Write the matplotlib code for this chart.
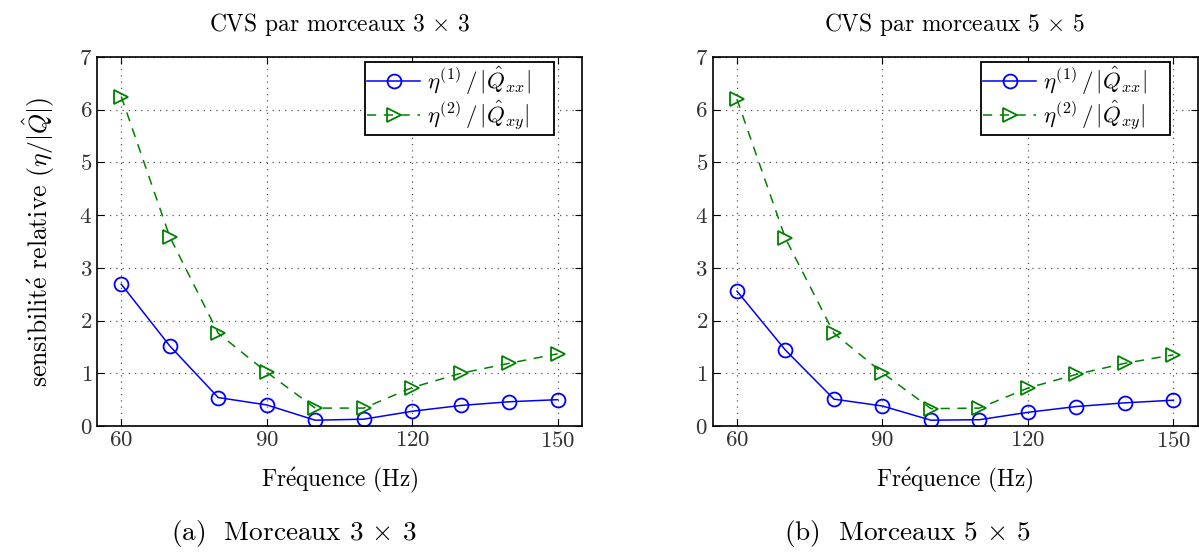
import matplotlib
matplotlib.use("Agg")
import matplotlib.pyplot as plt
import numpy as np

plt.rcParams['font.family'] = ['cmr10', 'DejaVu Serif']
plt.rcParams['mathtext.fontset'] = 'cm'
plt.rcParams['axes.formatter.use_mathtext'] = True

freq = [60, 70, 80, 90, 100, 110, 120, 130, 140, 150]

# morceaux 3 x 3
eta1_3x3 = [2.69, 1.52, 0.54, 0.40, 0.11, 0.13, 0.28, 0.39, 0.46, 0.50]
eta2_3x3 = [6.25, 3.59, 1.76, 1.02, 0.34, 0.34, 0.73, 1.00, 1.19, 1.37]

# morceaux 5 x 5
eta1_5x5 = [2.56, 1.44, 0.51, 0.38, 0.11, 0.12, 0.26, 0.37, 0.44, 0.49]
eta2_5x5 = [6.20, 3.56, 1.76, 1.01, 0.33, 0.34, 0.72, 0.98, 1.19, 1.35]

titles = [r"CVS par morceaux 3 $\times$ 3", r"CVS par morceaux 5 $\times$ 5"]
captions = [r"(a)  Morceaux 3 $\times$ 3", r"(b)  Morceaux 5 $\times$ 5"]
xticks = [60, 90, 120, 150]
yticks = [0, 1, 2, 3, 4, 5, 6, 7]

fig = plt.figure(figsize=(11.99, 5.55), dpi=100)
lefts = [0.0809, 0.5944]
cap_x = [0.245, 0.757]
datas = [(eta1_3x3, eta2_3x3), (eta1_5x5, eta2_5x5)]

for i in range(2):
   ax = fig.add_axes([lefts[i], 0.2324, 0.4045, 0.6649])
   e1, e2 = datas[i]
   ax.plot(freq, e1, color="blue", linewidth=1.1, marker="o", markersize=10,
           markerfacecolor="none", markeredgewidth=1.3,
           label=r"$\eta^{(1)}\,/\,|\hat{Q}_{xx}|$")
   ax.plot(freq, e2, color="green", linewidth=1.1, linestyle=(0, (6, 5)), marker=">",
           markersize=10, markerfacecolor="none", markeredgewidth=1.3,
           label=r"$\eta^{(2)}\,/\,|\hat{Q}_{xy}|$")
   ax.set_xlim(55, 155)
   ax.set_ylim(0, 7)
   ax.set_xticks(xticks)
   ax.set_yticks(yticks)
   ax.tick_params(direction="in", labelsize=16.5, labelcolor="#333333", length=5,
                  top=True, right=True, width=0.8)
   ax.grid(True, linestyle=(0, (1, 4)), color="#555555", linewidth=0.9)
   for s in ax.spines.values():
      s.set_linewidth(1.2)
   ax.set_title(titles[i], fontsize=16.9, pad=19)
   ax.set_xlabel(r"Fr$\mathrm{\acute{e}}$quence (Hz)", fontsize=16.8, labelpad=11)
   if i == 0:
      ax.set_ylabel(r"sensibilit$\mathrm{\acute{e}}$ relative ($\eta/|\hat{Q}|$)",
                    fontsize=18.5, labelpad=16)
   leg = ax.legend(loc="upper left", bbox_to_anchor=(0.553, 0.794, 0.389, 0.1925),
                   mode="expand", fontsize=16.5, fancybox=False, framealpha=1,
                   edgecolor="black", borderaxespad=0, handlelength=2.3,
                   borderpad=0.1, labelspacing=0.1, handletextpad=0.3)
   leg.get_frame().set_linewidth(1.3)
   fig.text(cap_x[i], 0.038, captions[i], fontsize=19.6, ha="center", va="center")

plt.savefig("out.png", dpi=100)
